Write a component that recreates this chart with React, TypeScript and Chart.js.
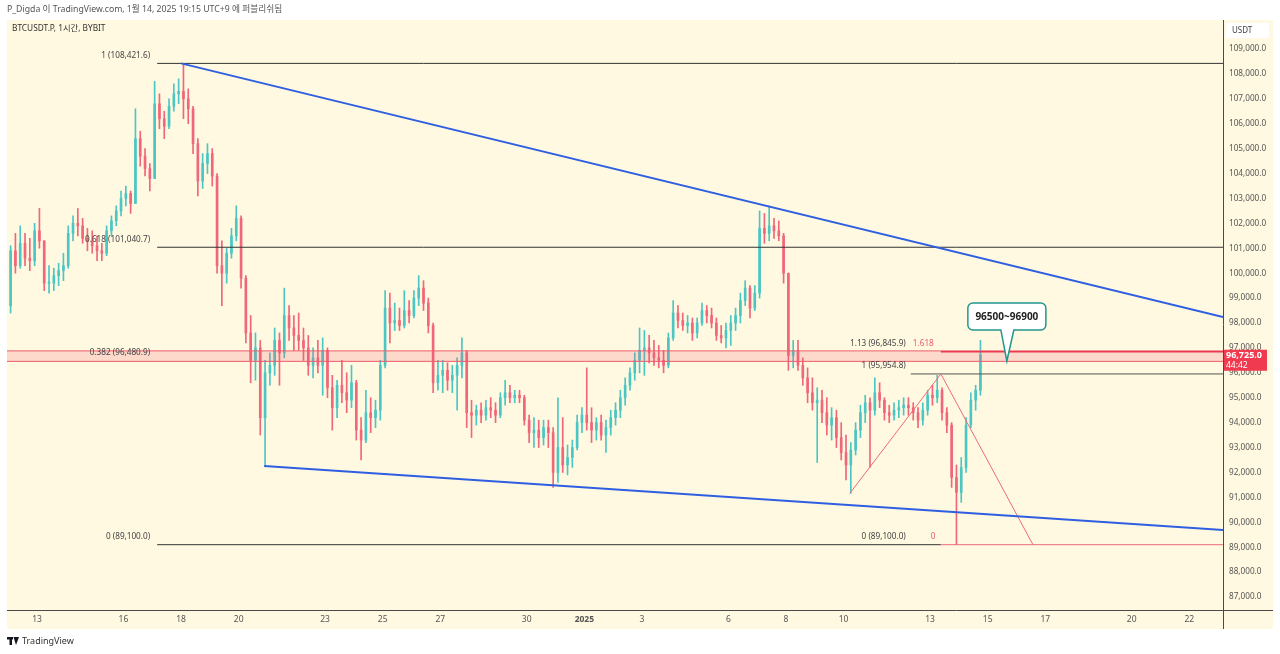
import React, { useEffect, useRef } from "react";
import { Chart, registerables } from "chart.js";

Chart.register(...registerables);

// ---- data (4-hour candles, UTC+9, starting Dec 12 00:00) ----
const START_DAY = 12;
const CANDLES_PER_DAY = 6;
const FIRST_OPEN = 98700;
const HIGHS = [
  101100, 101600, 101900, 101600, 101400, 102000,
  102600, 101300, 100300, 100200, 100400, 100800,
  101900, 102300, 102600, 102200, 101800, 101700,
  101500, 101200, 101900, 102300, 102700, 103300,
  103500, 103300, 106600, 105700, 105000, 104400,
  107700, 107200, 106500, 107000, 107600, 107800,
  108421.6, 107400, 106700, 105400, 104800, 105200,
  105000, 104000, 101300, 101000, 101800, 102700,
  102300, 99900, 98300, 97600, 97300, 96500,
  96800, 97800, 97600, 99400, 98700, 98300,
  98400, 97800, 97500, 97000, 97300, 97400,
  97000, 95900, 95700, 96500, 96000, 96300,
  95700, 94200, 95300, 95000, 94900, 96500,
  99300, 99200, 98800, 98600, 99300, 98900,
  99300, 99900, 99700, 99000, 98000, 96500,
  96500, 96400, 96300, 96600, 97400, 96900,
  94900, 94700, 94800, 94900, 95000, 94800,
  95200, 95700, 95500, 95300, 95300, 95100,
  94300, 94200, 94100, 94100, 94100, 93800,
  95000, 94200, 93100, 93300, 94300, 94600,
  96200, 94600, 94200, 94300, 94100, 94500,
  94800, 95300, 95800, 96200, 96800, 97800,
  97700, 97500, 97300, 97100, 96900, 97600,
  98900, 98700, 98400, 98300, 98200, 98200,
  98800, 98700, 98600, 98200, 97900, 98000,
  98300, 98600, 99200, 99700, 99500, 99500,
  102500, 102400, 102700, 102200, 102100, 101600,
  100000, 97300, 97300, 96600, 96200, 95800,
  95400, 95300, 95000, 94600, 94500, 94000,
  93500, 93200, 94000, 94700, 95100, 95000,
  95800, 95600, 95000, 94700, 94800, 94900,
  95000, 95000, 94800, 94600, 94800, 95300,
  95500, 95900, 95400, 94600, 94000, 92300,
  92600, 94200, 95200, 95500, 97300,
];
const LOWS = [
  98400, 100000, 100200, 100300, 100100, 100300,
  101000, 99300, 99200, 99300, 99500, 99700,
  100200, 101300, 101500, 101200, 100900, 100800,
  100500, 100500, 100700, 101500, 101900, 102300,
  102700, 102400, 102800, 104300, 103900, 103300,
  103800, 105800, 105400, 105800, 106500, 106800,
  106200, 106000, 104800, 103100, 103400, 104000,
  103500, 100000, 98700, 99600, 100600, 101300,
  99400, 97200, 95600, 95700, 93500, 92250,
  95500, 95900, 95500, 96600, 97300, 96900,
  96900, 96500, 95900, 95800, 96000, 95100,
  95000, 93700, 94200, 94800, 94400, 94600,
  93300, 92500, 93200, 93600, 93800, 94100,
  96200, 97200, 97700, 97700, 97800, 98000,
  98200, 98700, 98500, 97600, 95200, 95300,
  95200, 95300, 95200, 94500, 95800, 93800,
  93400, 93900, 94000, 94100, 94200, 94000,
  94200, 94700, 94800, 94800, 94800, 93900,
  93200, 93000, 93000, 93100, 93000, 91400,
  91600, 92000, 91900, 92200, 92900, 93600,
  93700, 93200, 93300, 93300, 92800, 93500,
  93900, 94200, 94700, 95300, 95700, 96000,
  95900, 96400, 96300, 96200, 96000, 96200,
  97300, 97800, 97700, 97600, 97300, 97400,
  97900, 98000, 97800, 97300, 97200, 97000,
  97100, 97700, 98000, 98700, 98200, 98500,
  99000, 101200, 101300, 101400, 101300, 99600,
  96100, 96200, 96100, 95500, 94800, 94500,
  92400, 94000, 93500, 93300, 93000, 92500,
  91700, 91160, 92700, 93400, 94000, 92200,
  94300, 94600, 94100, 94000, 94100, 94200,
  94300, 94300, 94100, 93800, 93900, 94300,
  94700, 94800, 94100, 93600, 91400, 89100,
  90800, 92000, 93800, 94500, 95100,
];
const CLOSES = [
  100900, 100300, 101200, 100600, 100500, 101700,
  101300, 99600, 99600, 99900, 100100, 100300,
  101600, 102000, 101900, 101400, 101300, 101100,
  100900, 100800, 101700, 102100, 102500, 103000,
  103200, 102800, 105400, 104700, 104200, 103800,
  106800, 106200, 105900, 106700, 107200, 107300,
  107000, 106600, 105200, 103700, 104400, 104800,
  103900, 100300, 100000, 100800, 101500, 102200,
  99800, 97600, 96500, 97000, 94200, 96000,
  96300, 97300, 96800, 98300, 97800, 97500,
  97300, 97000, 96300, 96600, 96300, 96900,
  95400, 94600, 95500, 95200, 94900, 95600,
  93700, 93300, 94400, 94200, 94500, 96300,
  98600, 98000, 98100, 97900, 98500, 98300,
  99000, 99400, 98800, 97900, 95600, 95900,
  96100, 95700, 95900, 96300, 96800, 94400,
  94300, 94500, 94300, 94600, 94500, 94300,
  95000, 95200, 95000, 95100, 95000, 94100,
  93600, 93700, 93400, 93800, 93600, 92000,
  93000, 92300, 92600, 93000, 94000, 94300,
  94000, 93700, 94000, 93500, 93800, 94200,
  94500, 95000, 95500, 96000, 96500, 96900,
  97000, 96800, 96600, 96500, 96300, 97400,
  98400, 98100, 97900, 98000, 97600, 98000,
  98500, 98300, 98000, 97500, 97400, 97700,
  98000, 98300, 98900, 99400, 98600, 99200,
  101800, 101600, 101900, 101700, 101500, 100000,
  96700, 96900, 96300, 95800, 95200, 94800,
  94900, 94400, 93900, 94200, 93400, 92800,
  92300, 92900, 93700, 94400, 94800, 94500,
  95200, 94900, 94400, 94300, 94500, 94600,
  94700, 94600, 94400, 94100, 94500, 95100,
  95000, 95300, 94400, 93900, 91800, 91200,
  92200, 93900, 94900, 95300, 96725,
];

const PRICE_TICKS = [
  87000, 88000, 89000, 90000, 91000, 92000, 93000, 94000, 95000, 96000, 97000, 98000,
  99000, 100000, 101000, 102000, 103000, 104000, 105000, 106000, 107000, 108000, 109000,
];
const TIME_TICK_DAYS = [13, 16, 18, 20, 23, 25, 27, 30, 32, 34, 37, 39, 41, 44, 46, 48, 51, 53];
const TIME_TICK_LABELS = ["13", "16", "18", "20", "23", "25", "27", "30", "2025", "3", "6", "8", "10", "13", "15", "17", "20", "22"];

const X_MIN = 11.958;
const X_MAX = 54.17;
const Y_MIN = 86478;
const Y_MAX = 110164;

const UPPER_TREND = [{ x: 18.003, y: 108421.6 }, { x: 54.17, y: 98241 }];
const LOWER_TREND = [{ x: 20.887, y: 92260 }, { x: 54.17, y: 89691 }];
const ABC_LINE = [{ x: 41.214, y: 91160 }, { x: 44.376, y: 95954.8 }, { x: 47.573, y: 89100 }];

const FIB_LEFT_START = 17.17;
const FIB_LEFT_LEVELS = [108421.6, 101040.7, 96480.9, 89100];
const FIB_LEFT_LABELS = ["1 (108,421.6)", "0.618 (101,040.7)", "0.382 (96,480.9)", "0 (89,100.0)"];
const FIB_LEFT_END = [54.17, 54.17, 54.17, 44.376];

const FIB_RIGHT_START = 43.333;
const FIB_RIGHT_RED_START = 44.376;
const FIB_RIGHT_LEVELS = [96845.9, 95954.8, 89100];
const FIB_RIGHT_LABELS = ["1.13 (96,845.9)", "1 (95,954.8)", "0 (89,100.0)"];
const FIB_RIGHT_TAGS = ["1.618", "", "0"];

const ZONE = [96460, 96880];
const CALLOUT_TEXT = "96500~96900";
const CALLOUT_TIP = { x: 46.667, y: 96475 };
const LAST_PRICE = 96725.0;
const LAST_PRICE_TIMER = "44:42";

const UP = "#4cc6c3";
const DOWN = "#f0667a";
const FONT = "'Noto Sans', 'Noto Sans CJK KR', sans-serif";

export default function App() {
  const ref = useRef<HTMLCanvasElement | null>(null);

  useEffect(() => {
    const canvas = ref.current!;
    const times = CLOSES.map((_, i) => START_DAY + (i + 0.5) / CANDLES_PER_DAY);
    const opens = CLOSES.map((_, i) => (i === 0 ? FIRST_OPEN : CLOSES[i - 1]));
    const colors = CLOSES.map((c, i) => (c >= opens[i] ? UP : DOWN));

    const wicks = times.map((t, i) => ({ x: t, y: [LOWS[i], HIGHS[i]] }));
    const bodies = times.map((t, i) => ({ x: t, y: [opens[i], CLOSES[i]] }));

    const line = (data: any[], color: string, width: number, order: number, extra: any = {}) => ({
      type: "line",
      data,
      borderColor: color,
      borderWidth: width,
      pointRadius: 0,
      tension: 0,
      fill: false,
      order,
      ...extra,
    });

    const datasets: any[] = [
      {
        type: "bar",
        data: wicks,
        backgroundColor: colors,
        barThickness: 1,
        grouped: false,
        order: 10,
      },
      {
        type: "bar",
        data: bodies,
        backgroundColor: colors,
        barThickness: 2,
        minBarLength: 1,
        grouped: false,
        order: 9,
      },
      line([{ x: X_MIN, y: ZONE[1] }, { x: X_MAX, y: ZONE[1] }], "#ef5a6c", 1, 5, {
        fill: "+1",
        backgroundColor: "rgba(242, 90, 110, 0.2)",
      }),
      line([{ x: X_MIN, y: ZONE[0] }, { x: X_MAX, y: ZONE[0] }], "#ef5a6c", 1, 5),
    ];
    FIB_LEFT_LEVELS.forEach((lv, i) => {
      if (lv === 96480.9) return;
      datasets.push(line([{ x: FIB_LEFT_START, y: lv }, { x: FIB_LEFT_END[i], y: lv }], "#333333", 1, 4));
    });
    datasets.push(line([{ x: FIB_RIGHT_START, y: FIB_RIGHT_LEVELS[1] }, { x: X_MAX, y: FIB_RIGHT_LEVELS[1] }], "#555555", 1, 4));
    datasets.push(line([{ x: FIB_RIGHT_RED_START, y: FIB_RIGHT_LEVELS[0] }, { x: X_MAX, y: FIB_RIGHT_LEVELS[0] }], "#e83a4e", 1.5, 3));
    datasets.push(line([{ x: FIB_RIGHT_RED_START, y: FIB_RIGHT_LEVELS[2] }, { x: X_MAX, y: FIB_RIGHT_LEVELS[2] }], "#ee6a7a", 1, 3));
    datasets.push(line(ABC_LINE, "#ee6a7a", 1, 2));
    datasets.push(line(UPPER_TREND, "#2f5fe0", 2, 1));
    datasets.push(line(LOWER_TREND, "#2f5fe0", 2, 1));

    const overlay = {
      id: "overlay",
      beforeDraw(chart: any) {
        const ctx = chart.ctx;
        ctx.save();
        ctx.fillStyle = "#ffffff";
        ctx.fillRect(0, 0, 1280, 654);
        ctx.fillStyle = "#fff9e1";
        ctx.fillRect(7, 20, 1266, 609);
        ctx.restore();
      },
      afterDraw(chart: any) {
        const ctx = chart.ctx;
        const xs = chart.scales.x;
        const ys = chart.scales.y;
        const area = chart.chartArea;
        ctx.save();
        // axis lines
        ctx.strokeStyle = "#4a4a4a";
        ctx.lineWidth = 1;
        ctx.beginPath();
        ctx.moveTo(7, area.bottom + 0.5);
        ctx.lineTo(1273, area.bottom + 0.5);
        ctx.moveTo(area.right + 0.5, 20);
        ctx.lineTo(area.right + 0.5, 629);
        ctx.stroke();

        // header
        ctx.fillStyle = "#555";
        ctx.font = `8.7px ${FONT}`;
        ctx.textBaseline = "middle";
        ctx.textAlign = "left";
        ctx.fillText("P_Digda 이 TradingView.com, 1월 14, 2025 19:15 UTC+9 에 퍼블리쉬됨", 7, 10);
        ctx.fillStyle = "#333";
        ctx.font = `8.3px ${FONT}`;
        ctx.fillText("BTCUSDT.P, 1시간, BYBIT", 12, 29);

        // footer logo
        ctx.fillStyle = "#131722";
        ctx.fillRect(7, 637, 6, 2.5);
        ctx.fillRect(9.5, 637, 2.5, 8);
        ctx.beginPath();
        ctx.moveTo(13.5, 637);
        ctx.lineTo(19, 637);
        ctx.lineTo(16, 645);
        ctx.closePath();
        ctx.fill();
        ctx.fillStyle = "#333";
        ctx.font = `9px ${FONT}`;
        ctx.fillText("TradingView", 22, 641.5);

        // fib labels
        ctx.font = `8.2px ${FONT}`;
        ctx.textAlign = "right";
        const lx = xs.getPixelForValue(FIB_LEFT_START) - 7;
        FIB_LEFT_LEVELS.forEach((lv, i) => {
          ctx.fillStyle = "#444";
          ctx.fillText(FIB_LEFT_LABELS[i], lx, ys.getPixelForValue(lv) - 8);
        });
        const rx = xs.getPixelForValue(FIB_RIGHT_START) - 5;
        FIB_RIGHT_LEVELS.forEach((lv, i) => {
          const py = ys.getPixelForValue(lv) - 8;
          ctx.textAlign = "right";
          ctx.fillStyle = "#444";
          ctx.fillText(FIB_RIGHT_LABELS[i], rx, py);
          if (FIB_RIGHT_TAGS[i]) {
            ctx.fillStyle = "#ee5a6c";
            ctx.textAlign = "left";
            const tx = FIB_RIGHT_TAGS[i] === "0" ? rx + 25 : rx + 7;
            ctx.fillText(FIB_RIGHT_TAGS[i], tx, py);
          }
        });

        // callout
        const tipX = xs.getPixelForValue(CALLOUT_TIP.x);
        const tipY = ys.getPixelForValue(CALLOUT_TIP.y);
        const bx = tipX - 39, by = tipY - 58, bw = 78, bh = 27, r = 5;
        ctx.beginPath();
        ctx.moveTo(bx + r, by);
        ctx.lineTo(bx + bw - r, by);
        ctx.arcTo(bx + bw, by, bx + bw, by + r, r);
        ctx.lineTo(bx + bw, by + bh - r);
        ctx.arcTo(bx + bw, by + bh, bx + bw - r, by + bh, r);
        ctx.lineTo(tipX + 7, by + bh);
        ctx.lineTo(tipX, tipY);
        ctx.lineTo(tipX - 6, by + bh);
        ctx.lineTo(bx + r, by + bh);
        ctx.arcTo(bx, by + bh, bx, by + bh - r, r);
        ctx.lineTo(bx, by + r);
        ctx.arcTo(bx, by, bx + r, by, r);
        ctx.closePath();
        ctx.fillStyle = "#ffffff";
        ctx.fill();
        ctx.strokeStyle = "#23968e";
        ctx.lineWidth = 1.5;
        ctx.stroke();
        ctx.fillStyle = "#222";
        ctx.font = `bold 10px ${FONT}`;
        ctx.textAlign = "center";
        ctx.fillText(CALLOUT_TEXT, bx + bw / 2, by + bh / 2 + 0.5);

        // USDT box
        ctx.fillStyle = "#ffffff";
        ctx.fillRect(1226, 23, 43, 15);
        ctx.fillStyle = "#444";
        ctx.font = `8px ${FONT}`;
        ctx.textAlign = "left";
        ctx.fillText("USDT", 1232, 30.5);

        // last price tag
        const py = ys.getPixelForValue(LAST_PRICE);
        ctx.fillStyle = "#ef3a4f";
        ctx.fillRect(area.right + 1, py - 5, 43, 21);
        ctx.fillStyle = "#ffffff";
        ctx.font = `bold 9px ${FONT}`;
        ctx.fillText(LAST_PRICE.toLocaleString("en-US", { minimumFractionDigits: 1 }), area.right + 3, py + 0.5);
        ctx.font = `8.5px ${FONT}`;
        ctx.fillText(LAST_PRICE_TIMER, area.right + 3, py + 10.5);
        ctx.restore();
      },
    };

    const chart = new Chart(canvas, {
      type: "bar",
      data: { datasets },
      options: {
        animation: false,
        responsive: false,
        devicePixelRatio: 1,
        layout: { padding: { left: 7, top: 20, right: 0, bottom: 0 } },
        plugins: { legend: { display: false }, tooltip: { enabled: false } },
        scales: {
          x: {
            type: "linear",
            min: X_MIN,
            max: X_MAX,
            offset: false,
            grid: { display: false, drawTicks: false },
            border: { display: false },
            afterBuildTicks: (s: any) => {
              s.ticks = TIME_TICK_DAYS.map((v) => ({ value: v }));
            },
            afterFit: (s: any) => {
              s.height = 44;
            },
            ticks: {
              autoSkip: false,
              maxRotation: 0,
              padding: 4,
              color: "#555",
              font: (c: any) => ({
                family: FONT,
                size: 8.5,
                weight: c.tick && c.tick.value === 32 ? "bold" : "normal",
              }),
              callback: (v: any) => {
                const k = TIME_TICK_DAYS.indexOf(Number(v));
                return k >= 0 ? TIME_TICK_LABELS[k] : "";
              },
            },
          },
          y: {
            type: "linear",
            position: "right",
            min: Y_MIN,
            max: Y_MAX,
            grid: { display: false, drawTicks: false },
            border: { display: false },
            afterBuildTicks: (s: any) => {
              s.ticks = PRICE_TICKS.map((v) => ({ value: v }));
            },
            afterFit: (s: any) => {
              s.width = 57;
            },
            ticks: {
              padding: 6,
              color: "#555",
              font: { family: FONT, size: 8.2 },
              callback: (v: any) => Number(v).toLocaleString("en-US", { minimumFractionDigits: 1 }),
            },
          },
        },
      } as any,
      plugins: [overlay],
    } as any);

    return () => chart.destroy();
  }, []);

  return (
    <div style={{ position: "fixed", left: 0, top: 0, width: 1280, height: 654, background: "#fff" }}>
      <canvas ref={ref} width={1280} height={654} style={{ width: 1280, height: 654, display: "block" }} />
    </div>
  );
}
